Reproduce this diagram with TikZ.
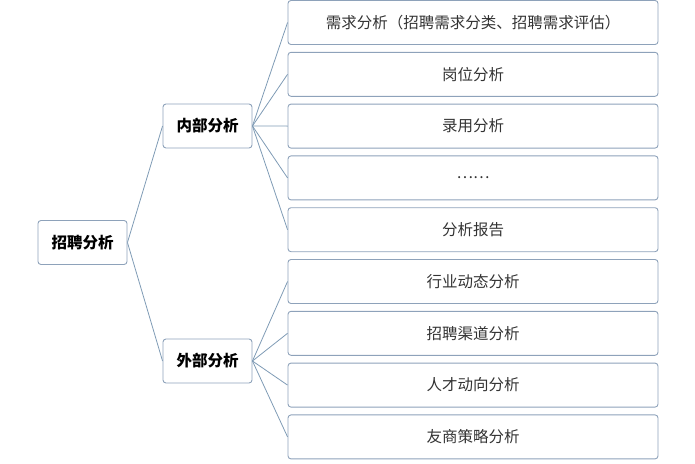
\documentclass[tikz,border=0pt]{standalone}
\usepackage{fontspec}
\setmainfont{Noto Sans CJK SC}
\usetikzlibrary{positioning}
\definecolor{boxline}{HTML}{8EA2BA}
\definecolor{linkline}{HTML}{7F9BB5}
\tikzset{
  leafbox/.style={draw=boxline, line width=0.9pt, rounded corners=3pt, minimum width=370pt, minimum height=44pt, font=\fontsize{15.5}{17}\selectfont, text=black!80},
  headbox/.style={draw=boxline, line width=0.9pt, rounded corners=3pt, minimum width=89pt, minimum height=44pt, font=\fontsize{15.5}{17}\selectfont\bfseries},
  link/.style={draw=linkline, line width=0.8pt}
}
\begin{document}
\begin{tikzpicture}[x=1pt,y=-1pt]
        \useasboundingbox (0,0) rectangle (695,463);
        % Root
        \node[headbox] (root) at (82.5,242.5) {招聘分析};
        \node[headbox] (inner) at (207.5,126) {内部分析};
        \node[headbox] (outer) at (207.5,361) {外部分析};

        % Leaves
        \foreach \i/\txt in {0/需求分析（招聘需求分类、招聘需求评估）,1/岗位分析,2/录用分析,3/……,4/分析报告,5/行业动态分析,6/招聘渠道分析,7/人才动向分析,8/友商策略分析} {
            \node[leafbox] (leaf\i) at (473,22.5+51.8*\i) {\txt};
        }

        % Links
        \draw[link] (root.east) -- (inner.west);
        \draw[link] (root.east) -- (outer.west);
        \foreach \i in {0,...,4} {
            \draw[link] (inner.east) -- (leaf\i.west);
        }
        \foreach \i in {5,...,8} {
            \draw[link] (outer.east) -- (leaf\i.west);
        }
    \end{tikzpicture}
\end{document}
